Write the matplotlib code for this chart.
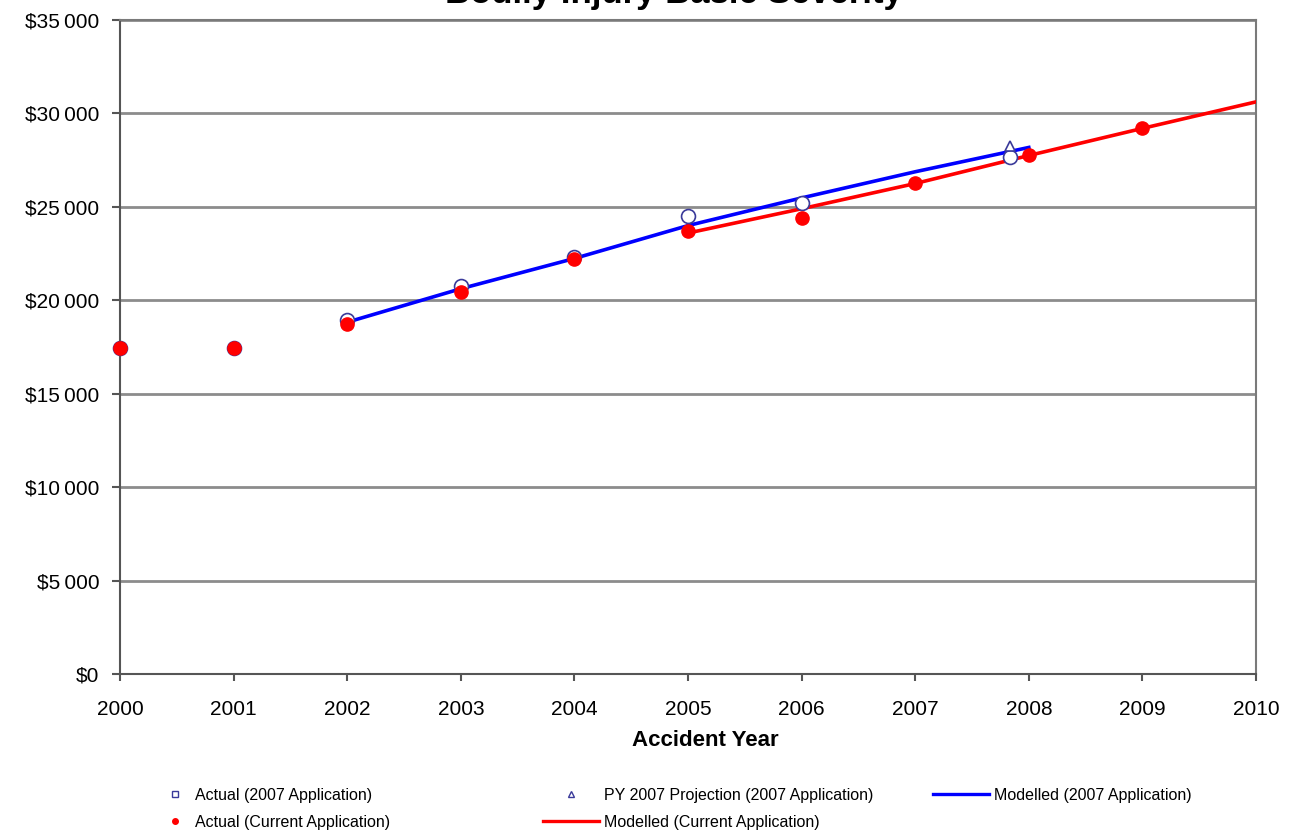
import numpy as np
from matplotlib import pyplot as plt
from matplotlib.lines import Line2D
from matplotlib.ticker import FuncFormatter

plt.rcParams['font.family'] = ['Liberation Sans', 'DejaVu Sans']

# Данные
yrs_cur = [2000, 2001, 2002, 2003, 2004, 2005, 2006, 2007, 2008, 2009]
act_cur = [17450, 17450, 18750, 20420, 22220, 23720, 24430, 26290, 27780, 29230]

yrs_07 = [2000, 2001, 2002, 2003, 2004, 2005, 2006, 2007.83]
act_07 = [17450, 17450, 18950, 20770, 22300, 24520, 25230, 27680]

yrs_proj = [2007.83]
proj_07 = [28270]

yrs_mod07 = [2002, 2003, 2004, 2005, 2006, 2007, 2008]
mod_07 = [18830, 20620, 22240, 24000, 25480, 26880, 28180]

yrs_modcur = [2005, 2006, 2007, 2008, 2009, 2010]
mod_cur = [23600, 24900, 26250, 27750, 29200, 30620]

fig = plt.figure(figsize=(12.91, 8.34), dpi=100)
ax = fig.add_axes([0.093, 0.1918, 0.8799, 0.7842])

navy = '#3a3a9a'
# Модельные линии
ax.plot(yrs_mod07, mod_07, color='#0000ff', lw=2.6, zorder=3)
ax.plot(yrs_modcur, mod_cur, color='#ff0000', lw=2.6, zorder=3)
# Фактические точки
ax.plot(yrs_07, act_07, 'o', ms=10, mfc='white', mec=navy, mew=1.2,
        ls='none', zorder=4, clip_on=False)
ax.plot(yrs_proj, proj_07, '^', ms=7, mfc='white', mec=navy, mew=1.2,
        ls='none', zorder=4)
ax.plot(yrs_cur, act_cur, 'o', ms=9.5, color='#ff0000', ls='none',
        zorder=5, clip_on=False)

ax.set_xlim(2000, 2010)
ax.set_ylim(0, 35000)
ax.set_xticks(range(2000, 2011))
ax.set_yticks(range(0, 35001, 5000))
ax.yaxis.set_major_formatter(FuncFormatter(
    lambda v, p: '$0' if v == 0 else '$%d\u2009000' % (v // 1000)))
ax.grid(axis='y', color='#8c8c8c', lw=2)
ax.set_axisbelow(True)
for s in ax.spines.values():
    s.set_color('#7a7a7a')
    s.set_linewidth(1.5)
ax.spines['left'].set_color('#555555')
ax.spines['bottom'].set_color('#555555')
ax.tick_params(axis='y', length=6, width=1.5, color='#555555', pad=9,
               labelsize=15)
ax.tick_params(axis='x', length=5, width=1.5, color='#555555', pad=14,
               labelsize=15)
ax.set_xlabel('Accident Year', fontsize=16, fontweight='bold', labelpad=0)
ax.xaxis.set_label_coords(0.515, -0.085)

# Заголовок обрезан сверху, как на оригинале
fig.text(0.522, 0.996, 'Bodily Injury Basic Severity', ha='center',
         va='baseline', fontsize=25, fontweight='bold')

# Легенда в три блока
h_a07 = Line2D([], [], marker='s', ms=4, mfc='white', mec=navy, ls='none')
h_ac = Line2D([], [], marker='o', ms=4, color='#ff0000', ls='none')
h_pr = Line2D([], [], marker='^', ms=4, mfc='white', mec=navy, ls='none')
h_mc = Line2D([], [], color='#ff0000', lw=2.4)
h_m07 = Line2D([], [], color='#0000ff', lw=2.4)
kw = dict(frameon=False, fontsize=11.5, loc='upper left', labelspacing=0.75,
          handletextpad=0.3, borderaxespad=0)
fig.legend([h_a07, h_ac], ['Actual (2007 Application)',
                           'Actual (Current Application)'],
           handlelength=2.0, bbox_to_anchor=(0.118, 0.063), **kw)
fig.legend([h_pr, h_mc], ['PY 2007 Projection (2007 Application)',
                          'Modelled (Current Application)'],
           handlelength=3.5, bbox_to_anchor=(0.416, 0.063), **kw)
fig.legend([h_m07], ['Modelled (2007 Application)'],
           handlelength=3.5, bbox_to_anchor=(0.718, 0.063), **kw)

plt.savefig('out.png', dpi=100)
